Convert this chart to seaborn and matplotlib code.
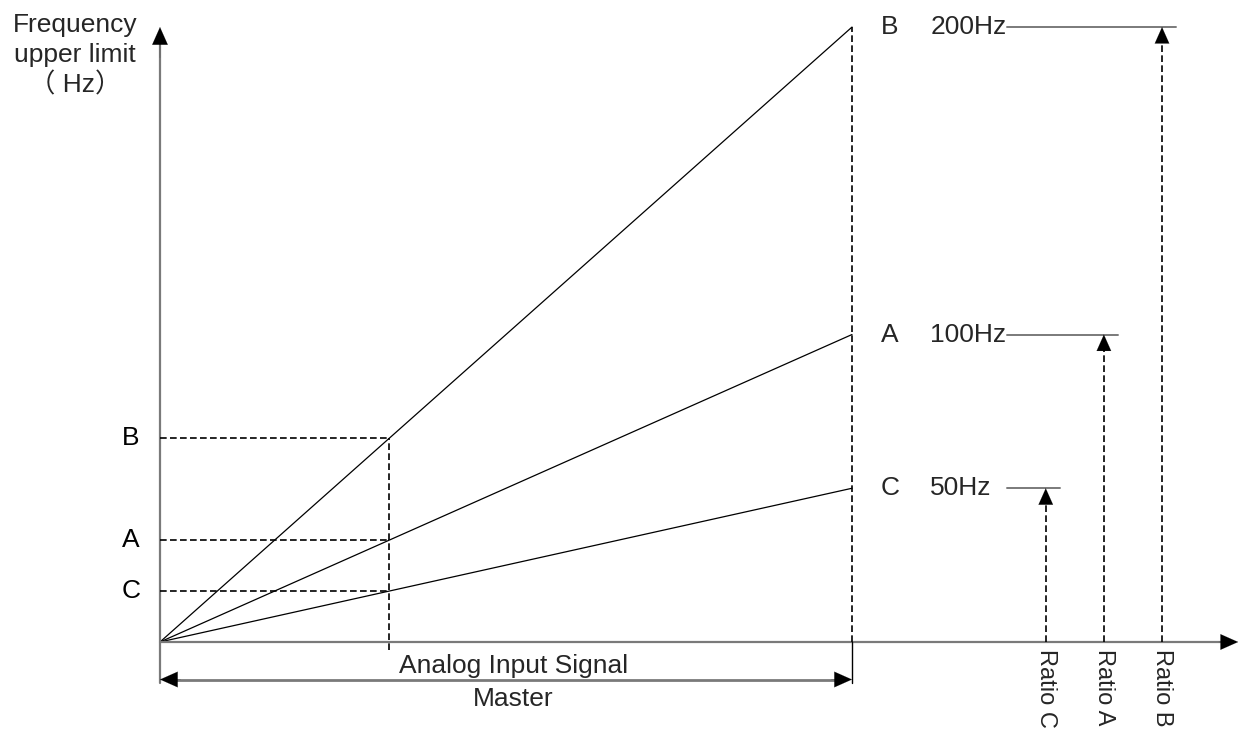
import numpy as np
import pandas as pd
import seaborn as sns
import matplotlib.pyplot as plt

# data
curves = ['B', 'A', 'C']
freq_upper = [200, 100, 50]          # Hz reached at full signal
ratio_pos = [1.448, 1.364, 1.280]    # where each ratio sits on the x axis
ratio_labels = ['Ratio B', 'Ratio A', 'Ratio C']
signal_full = 1.0
signal_mid = 0.331

sns.set_theme(style='white')
plt.rcParams['font.family'] = ['Liberation Sans', 'Noto Sans CJK SC', 'DejaVu Sans']

fig = plt.figure(figsize=(12.47, 7.33), dpi=100)
ax = fig.add_axes([0, 0, 1, 1])
ax.set_xlim(-0.2312, 1.5708)
ax.set_ylim(-29.6, 208.8)
ax.axis('off')

gray = '#7a7a7a'
dash = (0, (4, 2))

# rays from origin
rays = pd.DataFrame({
    'curve': np.repeat(curves, 2),
    'signal': [0, signal_full] * len(curves),
    'freq': np.ravel([[0, f] for f in freq_upper]),
})
sns.lineplot(data=rays, x='signal', y='freq', units='curve', estimator=None,
             color='black', lw=0.9, ax=ax)

def arrow_head(x0, y0, x1, y1, scale=14):
    ax.annotate('', xy=(x1, y1), xytext=(x0, y0),
                arrowprops=dict(arrowstyle='-|>,head_length=0.9,head_width=0.4',
                                color='black', lw=0.1, shrinkA=0, shrinkB=0,
                                mutation_scale=scale))

# axes
ax.plot([0, 0], [-13.5, 196], color=gray, lw=1.6)
arrow_head(0, 190, 0, 200)
ax.plot([0, 1.54], [0, 0], color=gray, lw=1.6)
arrow_head(1.53, 0, 1.558, 0)

# dashed guides at the mid signal
mid_vals = [f * signal_mid / signal_full for f in freq_upper]
ax.plot([signal_mid, signal_mid], [-2.6, max(mid_vals)], color='black', lw=1.2, ls=dash)
for c, v in zip(curves, mid_vals):
    ax.plot([0, signal_mid], [v, v], color='black', lw=1.2, ls=dash)
    ax.text(-0.042, v, c, fontsize=19, ha='center', va='center', color='black')

# full scale line
ax.plot([signal_full, signal_full], [0, max(freq_upper)], color='black', lw=1.2, ls=dash)
ax.plot([signal_full, signal_full], [0, -13.5], color='black', lw=1.0)

# double arrow for the input range
ax.plot([0.02, signal_full - 0.02], [-12.2, -12.2], color=gray, lw=2)
arrow_head(0.03, -12.2, 0, -12.2)
arrow_head(signal_full - 0.03, -12.2, signal_full, -12.2)
ax.text(0.511, -7.9, 'Analog Input Signal', fontsize=19, ha='center', va='center')
ax.text(0.511, -18.5, 'Master', fontsize=19, ha='center', va='center')

# right hand labels and ratio arrows
for c, f, rx, rl in zip(curves, freq_upper, ratio_pos, ratio_labels):
    ax.text(1.055, f, c, fontsize=19, ha='center', va='center')
    ax.text(1.113, f, f'{f}Hz', fontsize=19, ha='left', va='center')
    ax.plot([1.224, rx + 0.02], [f, f], color=gray, lw=1.4)
    ax.plot([rx, rx], [0, f - 4], color='black', lw=1.2, ls=dash)
    arrow_head(rx, f - 5, rx, f, scale=13)
    ax.text(rx, -2.4, rl, fontsize=17, rotation=270, ha='center', va='top')

# y title
ax.text(-0.123, 204.6, 'Frequency\nupper limit\n（ Hz）', fontsize=19, ha='center', va='top',
        linespacing=1.3)

fig.savefig('out.png', dpi=100)
